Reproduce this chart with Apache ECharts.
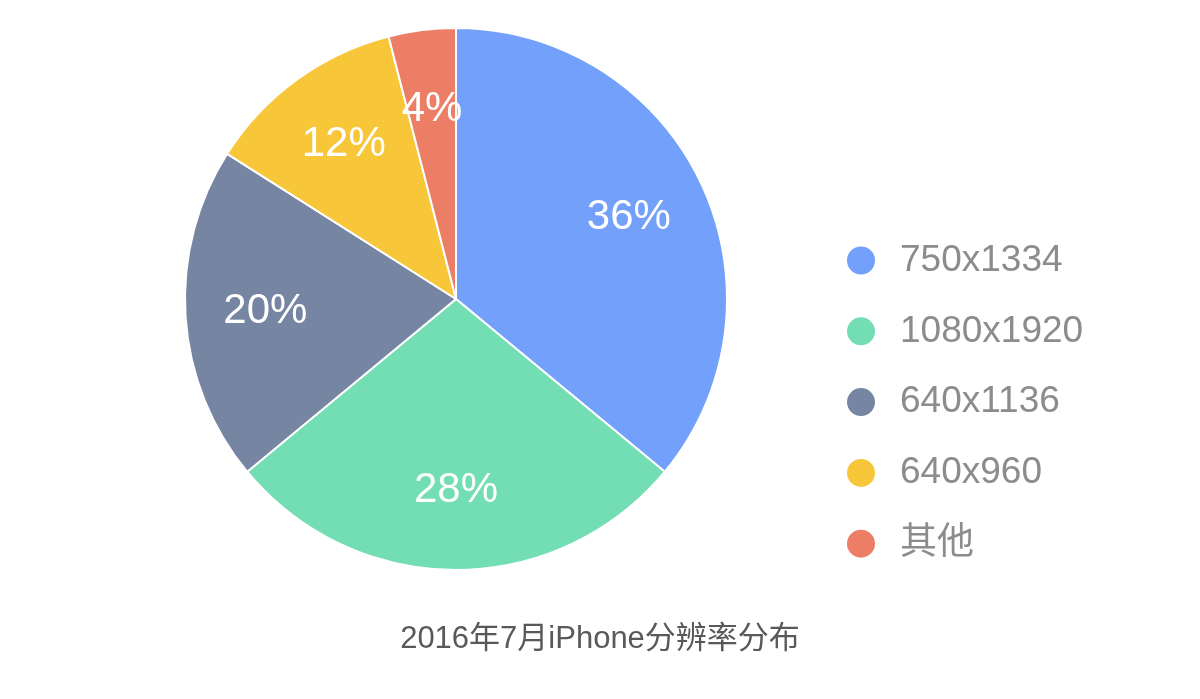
<!DOCTYPE html>
<html>
<head>
<meta charset="utf-8">
<script src="https://cdn.jsdelivr.net/npm/echarts@6/dist/echarts.min.js"></script>
<style>
html,body{margin:0;padding:0;background:#fff;}
#chart{width:1200px;height:699px;}
</style>
</head>
<body>
<div id="chart"></div>
<script>
const categories = ['750x1334', '1080x1920', '640x1136', '640x960', '其他'];
const values = [36, 28, 20, 12, 4];
const colors = ['#73A0FA', '#73DEB3', '#7585A2', '#F7C739', '#EB7E65'];
const titleText = '2016年7月iPhone分辨率分布';

const FONT = "'Liberation Sans', 'Noto Sans CJK SC', sans-serif";
const chart = echarts.init(document.getElementById('chart'));
const data = categories.map((c, i) => ({ name: c, value: values[i] }));

chart.setOption({
  animation: false,
  color: colors,
  title: {
    text: titleText,
    left: 'center',
    top: 619,
    textStyle: { fontFamily: FONT, fontSize: 31, fontWeight: 'normal', color: '#595959' }
  },
  legend: {
    orient: 'vertical',
    left: 840,
    top: 237,
    icon: 'circle',
    itemWidth: 30,
    itemHeight: 30,
    itemGap: 33.8,
    data: categories,
    textStyle: { fontFamily: FONT, fontSize: 37, color: '#8C8C8C', padding: [0, 0, 0, 19] }
  },
  series: [
    {
      type: 'pie',
      center: [456, 299],
      radius: [0, 271],
      startAngle: 90,
      clockwise: true,
      data: data,
      itemStyle: { borderColor: '#fff', borderWidth: 2 },
      label: { show: false },
      labelLine: { show: false },
      emphasis: { disabled: true }
    },
    {
      type: 'pie',
      center: [456, 299],
      radius: [105, 271],
      startAngle: 90,
      clockwise: true,
      silent: true,
      data: data,
      itemStyle: { color: 'rgba(0,0,0,0)', borderWidth: 0 },
      label: {
        show: true,
        position: 'inside',
        formatter: function (p) { return p.value + '%'; },
        fontFamily: FONT,
        fontSize: 42,
        color: '#fff'
      },
      labelLine: { show: false },
      emphasis: { disabled: true }
    }
  ]
});
</script>
</body>
</html>
